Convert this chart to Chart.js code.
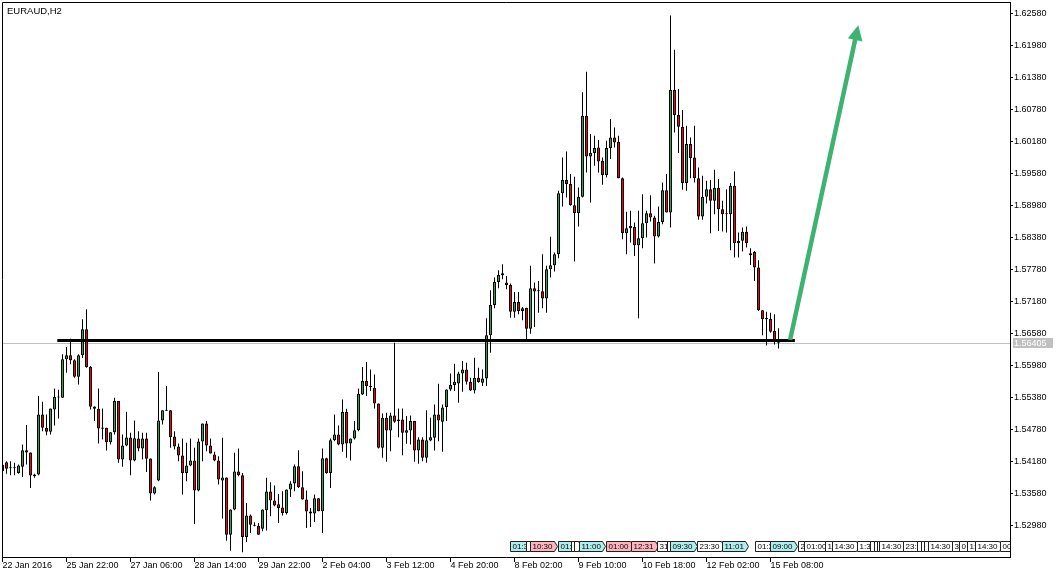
<!DOCTYPE html>
<html><head><meta charset="utf-8">
<script src="https://cdn.jsdelivr.net/npm/chart.js@4.4.1/dist/chart.umd.min.js"></script>
<style>html,body{margin:0;padding:0;background:#fff;overflow:hidden}</style>
</head><body>
<canvas id="c" width="1063" height="578"></canvas>
<script>
const chartTitle = 'EURAUD,H2';

const opens = [
1.5400,1.54167,1.54054,1.54054,1.53966,1.54079,1.54392,1.54348,1.53935,1.53935,
1.55062,1.54812,1.54736,1.55156,1.55381,1.55375,1.56095,1.56170,1.56076,1.55769,
1.56170,1.56658,1.55957,1.55212,1.55168,1.54793,1.54812,1.54542,1.54730,1.55312,
1.54217,1.54480,1.54630,1.54198,1.54611,1.54423,1.54611,1.54236,1.53578,1.53823,
1.54949,1.55131,1.55143,1.54649,1.54461,1.54292,1.53966,1.54104,1.54198,1.53635,
1.54555,1.54893,1.54480,1.54311,1.54198,1.53823,1.53879,1.52808,1.53278,1.53992,
1.53923,1.52765,1.53165,1.52996,1.52977,1.52921,1.53265,1.53616,1.53447,1.53378,
1.53316,1.53215,1.53654,1.53766,1.54092,1.53697,1.53466,1.53240,1.53203,1.53491,
1.53247,1.54242,1.53966,1.54580,1.54686,1.54499,1.55106,1.54517,1.54611,1.54768,
1.55438,1.55688,1.55594,1.55563,1.55269,1.54436,1.54999,1.54762,1.55043,1.54968,
1.54968,1.54718,1.54762,1.54937,1.54386,1.54592,1.54248,1.54574,1.54624,1.55062,
1.54924,1.55200,1.55532,1.55613,1.55644,1.55832,1.55907,1.55675,1.55513,1.55751,
1.55657,1.55738,1.56546,1.57115,1.57547,1.57672,1.57535,1.57491,1.56990,1.57172,
1.57003,1.57065,1.56671,1.57428,1.57372,1.57372,1.57234,1.57785,1.57860,1.58066,
1.59212,1.59456,1.59381,1.58986,1.58836,1.59143,1.60664,1.59900,1.59963,1.60069,
1.59819,1.59550,1.60057,1.60257,1.60176,1.59493,1.58461,1.58554,1.58579,1.58235,
1.58367,1.58648,1.58836,1.58755,1.58398,1.58673,1.59268,1.58849,1.61146,1.60677,
1.60458,1.59400,1.60132,1.59882,1.59493,1.58774,1.59143,1.59287,1.59068,1.59306,
1.58911,1.58817,1.58817,1.59350,1.58273,1.58317,1.58486,1.58047,1.58110,1.57816,
1.57014,1.56871,1.56858,1.56627,1.56470];

const highs = [
1.5418,1.54186,1.54186,1.54154,1.54123,1.54499,1.54862,1.54348,1.53948,1.55406,
1.55300,1.55062,1.55175,1.55550,1.55525,1.56189,1.56326,1.56483,1.56095,1.56189,
1.56846,1.57034,1.55970,1.55212,1.55550,1.55175,1.54812,1.54730,1.55375,1.55312,
1.54686,1.55112,1.54718,1.54949,1.54749,1.54718,1.54718,1.54236,1.53716,1.55857,
1.55143,1.55594,1.55143,1.54749,1.54517,1.54611,1.54530,1.54611,1.54436,1.54611,
1.54893,1.54937,1.54611,1.54361,1.54279,1.54624,1.53879,1.53278,1.54342,1.54423,
1.53966,1.53403,1.53184,1.53040,1.53027,1.53278,1.53873,1.53791,1.53729,1.53572,
1.53622,1.53654,1.53810,1.54123,1.54392,1.53998,1.53635,1.53309,1.53560,1.53497,
1.54423,1.54248,1.54611,1.55062,1.54855,1.55344,1.55168,1.54611,1.54937,1.55550,
1.55951,1.56045,1.55907,1.55813,1.55269,1.55081,1.55093,1.55093,1.56408,1.55175,
1.55175,1.55031,1.55043,1.54937,1.54636,1.54636,1.55143,1.54999,1.55250,1.55638,
1.55250,1.55532,1.55832,1.56014,1.55863,1.56064,1.56032,1.55751,1.56126,1.55938,
1.55907,1.56865,1.57391,1.57629,1.57766,1.57879,1.57660,1.57516,1.57359,1.57359,
1.57078,1.57065,1.57848,1.57535,1.57566,1.58067,1.57848,1.58392,1.58100,1.59256,
1.59882,1.59994,1.59569,1.59519,1.59318,1.61102,1.61490,1.60320,1.60289,1.60207,
1.59882,1.60195,1.60602,1.60445,1.60289,1.59506,1.58861,1.58880,1.58661,1.58880,
1.59193,1.58880,1.59174,1.58786,1.58961,1.59412,1.59569,1.62542,1.61900,1.61165,
1.60771,1.60476,1.60257,1.60476,1.59694,1.59537,1.59443,1.59456,1.59650,1.59475,
1.59068,1.59287,1.59400,1.59619,1.58473,1.58567,1.58586,1.58179,1.58129,1.57954,
1.57021,1.56990,1.56971,1.56940,1.56677];

const lows = [
1.5369,1.53948,1.53923,1.53923,1.53948,1.53891,1.54123,1.53685,1.53873,1.53923,
1.54749,1.54674,1.54686,1.54855,1.54987,1.55375,1.55844,1.56001,1.55751,1.55625,
1.56120,1.55938,1.55156,1.54937,1.54517,1.54592,1.54386,1.54499,1.54686,1.54154,
1.54079,1.54467,1.53923,1.54186,1.54373,1.54217,1.53985,1.53447,1.53560,1.53810,
1.54874,1.55125,1.54436,1.54405,1.54186,1.53560,1.53810,1.54092,1.53009,1.53622,
1.54186,1.54373,1.54330,1.54186,1.53747,1.53109,1.52696,1.52508,1.53265,1.53904,
1.52477,1.52671,1.52840,1.52965,1.52808,1.52871,1.52884,1.53153,1.53340,1.53027,
1.53165,1.53184,1.53516,1.53622,1.53685,1.53466,1.52934,1.52952,1.53046,1.53247,
1.52840,1.53948,1.53685,1.54561,1.54486,1.54361,1.54248,1.54198,1.54592,1.54749,
1.55425,1.55406,1.55500,1.55175,1.54423,1.54248,1.54173,1.54373,1.54906,1.54636,
1.54298,1.54511,1.54499,1.54173,1.54136,1.54186,1.54154,1.54561,1.54386,1.54561,
1.54361,1.54937,1.55500,1.55500,1.55281,1.55488,1.55625,1.55500,1.55456,1.55657,
1.55594,1.55594,1.56220,1.57053,1.57428,1.57597,1.57410,1.56877,1.56877,1.56940,
1.56827,1.56458,1.56577,1.56702,1.56971,1.57053,1.56971,1.57629,1.57741,1.57991,
1.58961,1.59130,1.58974,1.57929,1.58586,1.59130,1.59600,1.59036,1.59725,1.59600,
1.59368,1.59506,1.59850,1.60069,1.59493,1.58348,1.58066,1.58285,1.58035,1.56864,
1.58179,1.58379,1.58680,1.57891,1.58379,1.58630,1.58849,1.58567,1.60351,1.59963,
1.59274,1.59256,1.59493,1.59412,1.58711,1.58711,1.59018,1.58461,1.58817,1.58504,
1.58492,1.58473,1.58141,1.58004,1.58004,1.58116,1.58191,1.57866,1.57565,1.57002,
1.56545,1.56357,1.56596,1.56376,1.56301];

const closes = [
1.5412,1.54042,1.54054,1.54054,1.54104,1.54392,1.54348,1.53916,1.53904,1.55062,
1.54812,1.54736,1.55175,1.55388,1.55381,1.56095,1.56170,1.56076,1.55769,1.56170,
1.56658,1.55951,1.55206,1.55168,1.54799,1.54818,1.54542,1.54730,1.55312,1.54217,
1.54480,1.54630,1.54198,1.54618,1.54423,1.54611,1.54229,1.53578,1.53697,1.54949,
1.55143,1.55150,1.54636,1.54461,1.54292,1.53966,1.54104,1.54198,1.53635,1.54555,
1.54893,1.54480,1.54330,1.54198,1.53841,1.53879,1.52808,1.53278,1.53992,1.53923,
1.52765,1.53165,1.52996,1.52977,1.52808,1.53278,1.53616,1.53447,1.53353,1.53309,
1.53215,1.53654,1.53766,1.54092,1.53697,1.53466,1.53240,1.53203,1.53491,1.53247,
1.54242,1.53966,1.54580,1.54686,1.54499,1.55106,1.54517,1.54611,1.54768,1.55450,
1.55688,1.55594,1.55575,1.55269,1.54436,1.54999,1.54762,1.55043,1.54924,1.54937,
1.54718,1.54768,1.54937,1.54386,1.54592,1.54248,1.54580,1.54636,1.55062,1.54949,
1.55194,1.55532,1.55613,1.55675,1.55832,1.55907,1.55675,1.55513,1.55751,1.55669,
1.55738,1.56546,1.57115,1.57547,1.57679,1.57710,1.57485,1.56990,1.57172,1.57003,
1.57053,1.56671,1.57428,1.57366,1.57372,1.57234,1.57785,1.57860,1.58067,1.59212,
1.59456,1.59381,1.58986,1.58836,1.59143,1.60664,1.59900,1.59963,1.60057,1.59806,
1.59550,1.60057,1.60257,1.60163,1.59493,1.58461,1.58554,1.58598,1.58235,1.58367,
1.58648,1.58836,1.58755,1.58398,1.58673,1.59268,1.58849,1.61146,1.60677,1.60458,
1.59400,1.60132,1.59869,1.59493,1.58774,1.59143,1.59287,1.59068,1.59306,1.58911,
1.58817,1.58817,1.59350,1.58273,1.58317,1.58486,1.58273,1.58085,1.57816,1.57014,
1.56846,1.56846,1.56614,1.56458,1.56405];

// time axis: bar index of each labelled tick and its text
const xTickIdx  = [0,16,32,48,64,80,96,112,128,144,160,176,192];
const xTickText = ['22 Jan 2016','25 Jan 22:00','27 Jan 06:00','28 Jan 14:00','29 Jan 22:00',
  '2 Feb 04:00','3 Feb 12:00','4 Feb 20:00','8 Feb 02:00','9 Feb 10:00','10 Feb 18:00',
  '12 Feb 02:00','15 Feb 08:00'];
const xRange = [-0.125, 251.875];

// price axis
const yTickVals = [1.52980,1.53580,1.54180,1.54780,1.55380,1.55980,1.56580,1.57180,
  1.57780,1.58380,1.58980,1.59580,1.60180,1.60780,1.61380,1.61980,1.62580];
const yRange = [1.52389, 1.62796];
const lastPrice = 1.56405;

// drawn objects
const supportIdx = [13.7, 198.1];
const supportPrice = 1.5645;
const arrowIdx = [196.9, 213.95];
const arrowPrice = [1.5646, 1.6236];

// calendar events along the bottom: bar index, text, kind (c=cyan, p=pink, w=white)
const evIdx  = [126.9,130.9,131.9,138.9,142.05,142.9,144.0,150.9,157.05,163.55,166.05,166.9,173.6,179.9,
  188.1,191.9,198.9,200.4,205.6,207.4,213.6,216.9,217.9,218.6,219.1,225.1,228.6,229.6,230.4,231.4,
  237.4,239.1,241.1,243.1,249.4];
const evText = ['01:30','','10:30','01:30','','','11:00','01:00','12:31','31','','09:30','23:30','11:01',
  '01:30','09:00','23:30','01:00','13:30','14:30','1:30','','','','14:30','23:30','','','','14:30',
  '3:30','0','1:30','14:30','00:00'];
const evKind = ['c','w','p','c','w','w','c','p','p','w','w','c','w','c',
  'w','c','w','w','w','w','w','w','w','w','w','w','w','w','w','w',
  'w','w','w','w','w'];

const BULL = '#26a65b', BEAR = '#ff0000';
const FONT = "'Liberation Sans', Arial, sans-serif";
Chart.defaults.font.family = FONT;
Chart.defaults.font.size = 9;
Chart.defaults.color = '#000';

const wickData = opens.map((o, i) => ({x: i, y: [lows[i], highs[i]]}));
const bodyData = opens.map((o, i) => ({x: i, y: [o, closes[i]]}));
const bodyColors = opens.map((o, i) => closes[i] >= o ? BULL : BEAR);
const supportData = supportIdx.map(v => ({x: v, y: supportPrice}));

const mtPlugin = {
  id: 'mt',
  beforeDraw(chart) {
    const c = chart.ctx;
    c.save(); c.fillStyle = '#fff'; c.fillRect(0, 0, chart.width, chart.height); c.restore();
  },
  beforeDatasetsDraw(chart) {
    const {ctx, chartArea: a, scales: {y}} = chart;
    const py = Math.round(y.getPixelForValue(lastPrice)) + 0.5;
    ctx.save();
    ctx.strokeStyle = '#c0c0c0'; ctx.lineWidth = 1;
    ctx.beginPath(); ctx.moveTo(a.left, py); ctx.lineTo(a.right, py); ctx.stroke();
    ctx.restore();
  },
  afterDatasetsDraw(chart) {
    const {ctx, chartArea: a, scales: {x, y}} = chart;
    // arrow
    const x0 = x.getPixelForValue(arrowIdx[0]), y0 = y.getPixelForValue(arrowPrice[0]);
    const x1 = x.getPixelForValue(arrowIdx[1]), y1 = y.getPixelForValue(arrowPrice[1]);
    const dx = x1 - x0, dy = y1 - y0, len = Math.hypot(dx, dy);
    const ux = dx / len, uy = dy / len, nx = -uy, ny = ux;
    const headL = 15, headW = 7.5;
    const bx = x1 - ux * headL, by = y1 - uy * headL;
    ctx.save();
    ctx.strokeStyle = '#3cb371'; ctx.fillStyle = '#3cb371';
    ctx.lineWidth = 4.5; ctx.lineCap = 'butt';
    ctx.beginPath(); ctx.moveTo(x0, y0); ctx.lineTo(bx + ux * 2, by + uy * 2); ctx.stroke();
    ctx.beginPath();
    ctx.moveTo(x1, y1);
    ctx.lineTo(bx + nx * headW, by + ny * headW);
    ctx.lineTo(bx - nx * headW, by - ny * headW);
    ctx.closePath(); ctx.fill();
    ctx.restore();

    // calendar events
    ctx.save();
    ctx.beginPath(); ctx.rect(a.left, a.top, a.right - a.left, a.bottom - a.top); ctx.clip();
    ctx.font = "8px " + FONT;
    ctx.textBaseline = 'middle';
    const top = 541.5, bot = 551.5, mid = (top + bot) / 2;
    const fills = {c: '#b0eeee', p: '#ffb4bc', w: '#ffffff'};
    evIdx.forEach((v, k) => {
      const l = Math.round(x.getPixelForValue(v)) + 0.5;
      const tw = ctx.measureText(evText[k]).width;
      const r = l + Math.max(3, Math.round(tw + 7));
      ctx.beginPath();
      ctx.moveTo(l, top); ctx.lineTo(r - 3, top); ctx.lineTo(r, mid);
      ctx.lineTo(r - 3, bot); ctx.lineTo(l, bot); ctx.closePath();
      ctx.fillStyle = fills[evKind[k]]; ctx.fill();
      ctx.strokeStyle = '#202020'; ctx.lineWidth = 1; ctx.stroke();
      ctx.fillStyle = '#000';
      ctx.fillText(evText[k], l + 2, mid + 0.5);
    });
    ctx.restore();

    // frame (top / left)
    ctx.save();
    ctx.strokeStyle = '#000'; ctx.lineWidth = 1;
    ctx.beginPath();
    ctx.moveTo(a.left + 0.5, a.bottom); ctx.lineTo(a.left + 0.5, a.top + 0.5); ctx.lineTo(a.right + 1, a.top + 0.5);
    ctx.stroke();
    // title
    ctx.font = "9.5px " + FONT; ctx.fillStyle = '#000'; ctx.textBaseline = 'alphabetic';
    ctx.fillText(chartTitle, 7, 14);
    ctx.restore();
  },
  afterDraw(chart) {
    const {ctx, scales: {y}} = chart;
    const py = y.getPixelForValue(lastPrice);
    ctx.save();
    ctx.fillStyle = '#c0c0c0';
    ctx.fillRect(1013, Math.round(py) - 5, 40, 10);
    ctx.fillStyle = '#fff'; ctx.font = "9px " + FONT; ctx.textBaseline = 'middle';
    ctx.fillText(lastPrice.toFixed(5), 1014, Math.round(py) + 0.5);
    ctx.restore();
  }
};

new Chart(document.getElementById('c'), {
  type: 'bar',
  data: {
    datasets: [
      {type: 'line', data: supportData, borderColor: '#000', borderWidth: 3, pointRadius: 0,
       borderCapStyle: 'butt', order: 0},
      {type: 'bar', data: bodyData, backgroundColor: bodyColors, borderColor: '#000', borderWidth: 1,
       borderSkipped: false, barThickness: 3, minBarLength: 1, grouped: false, inflateAmount: 0, order: 1},
      {type: 'bar', data: wickData, backgroundColor: '#000', borderWidth: 0, barThickness: 1,
       grouped: false, inflateAmount: 0, order: 2}
    ]
  },
  options: {
    responsive: false, animation: false, devicePixelRatio: 1, events: [],
    layout: {padding: {left: 2, top: 2, right: 0, bottom: 0}},
    plugins: {legend: {display: false}, tooltip: {enabled: false}, title: {display: false}},
    scales: {
      x: {
        type: 'linear', position: 'bottom', min: xRange[0], max: xRange[1], offset: false,
        afterBuildTicks: s => { s.ticks = xTickIdx.map(v => ({value: v})); },
        afterFit: s => { s.height = 21; s.paddingLeft = 0; s.paddingRight = 0; },
        ticks: {autoSkip: false, maxRotation: 0, minRotation: 0, align: 'start', padding: -2,
          callback: v => { const k = xTickIdx.indexOf(v); return k >= 0 ? xTickText[k] : ''; }},
        grid: {drawOnChartArea: false, drawTicks: true, tickLength: 5, color: '#000', offset: false},
        border: {display: true, color: '#000', width: 1}
      },
      y: {
        type: 'linear', position: 'right', min: yRange[0], max: yRange[1], beginAtZero: false,
        afterBuildTicks: s => { s.ticks = yTickVals.map(v => ({value: v})); },
        afterFit: s => { s.width = 53; s.paddingTop = 0; s.paddingBottom = 0; },
        ticks: {padding: 1, callback: v => Number(v).toFixed(5)},
        grid: {drawOnChartArea: false, drawTicks: true, tickLength: 3, color: '#000'},
        border: {display: true, color: '#000', width: 1}
      }
    }
  },
  plugins: [mtPlugin]
});
</script>
</body></html>
